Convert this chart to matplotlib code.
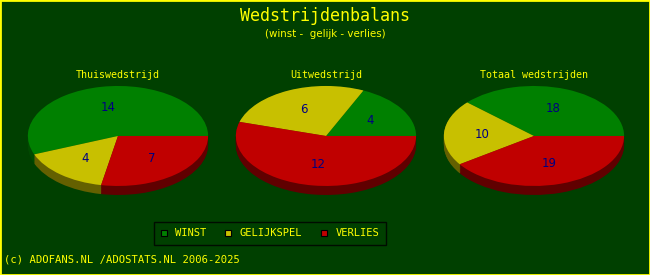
import numpy as np
import matplotlib.pyplot as plt
from matplotlib.patches import Patch, Rectangle

# Gegevens
titels = ["Thuiswedstrijd", "Uitwedstrijd", "Totaal wedstrijden"]
categorieen = ["WINST", "GELIJKSPEL", "VERLIES"]
thuis = [14, 4, 7]
uit = [4, 6, 12]
totaal = [18, 10, 19]

bg = "#004000"
geel = "#ffff00"
kleuren = ["#008000", "#c8c000", "#c00000"]
donker = ["#004a00", "#646000", "#600000"]

fig = plt.figure(figsize=(6.5, 2.75), dpi=100, facecolor=bg)

diepte = 0.18  # dikte van de taart (in data-eenheden y)
links = [0.0415, 0.3615, 0.6815]

for i, (titel, waarden) in enumerate(zip(titels, [thuis, uit, totaal])):
    ax = fig.add_axes([links[i], 0.291, 182 / 650, (2 + diepte) * 50 / 275])
    ax.set_facecolor(bg)
    n = sum(waarden)
    # zijkant: donkere taarten naar beneden verschoven
    for off in np.linspace(diepte, 0.01, 12):
        ax.pie(waarden, colors=donker, center=(0, -off), startangle=0,
               wedgeprops=dict(linewidth=0))
    ax.pie(waarden, colors=kleuren, startangle=0, pctdistance=0.58,
           autopct=lambda p, n=n: f"{round(p * n / 100)}",
           textprops=dict(color="#000080", fontsize=8.5, family="DejaVu Sans"),
           wedgeprops=dict(linewidth=0))
    ax.set_aspect("auto")
    ax.set_xlim(-1.01, 1.01)
    ax.set_ylim(-1 - diepte, 1)
    ax.axis("off")
    fig.text(links[i] + 91 / 650, 1 - 75 / 275, titel, color=geel,
             family="DejaVu Sans Mono", fontsize=7.2, ha="center", va="center")

fig.text(0.5, 1 - 16 / 275, "Wedstrijdenbalans", color=geel,
         family="DejaVu Sans Mono", fontsize=12, ha="center", va="center")
fig.text(0.5, 1 - 34 / 275, "(winst -  gelijk - verlies)", color=geel,
         family="DejaVu Sans", fontsize=7.4, ha="center", va="center")
fig.text(4 / 650, 1 - 260 / 275, "(c) ADOFANS.NL /ADOSTATS.NL 2006-2025", color=geel,
         family="DejaVu Sans Mono", fontsize=7.6, ha="left", va="center")

handles = [Patch(facecolor=k, edgecolor="black", linewidth=0.8) for k in kleuren]
leg = fig.legend(handles, categorieen, loc="center", bbox_to_anchor=(270 / 650, 1 - 233.5 / 275),
                 ncol=3, frameon=True, facecolor=bg, edgecolor="black", fancybox=False,
                 handlelength=0.6, handleheight=0.6, handletextpad=0.8, columnspacing=1.8,
                 borderpad=0.6, prop=dict(family="DejaVu Sans Mono", size=7.5))
leg.get_frame().set_linewidth(1)
for t in leg.get_texts():
    t.set_color(geel)

fig.patches.append(Rectangle((0, 0), 1, 1, transform=fig.transFigure, fill=False,
                             edgecolor=geel, linewidth=2))

fig.savefig("out.png", dpi=100, facecolor=bg)
